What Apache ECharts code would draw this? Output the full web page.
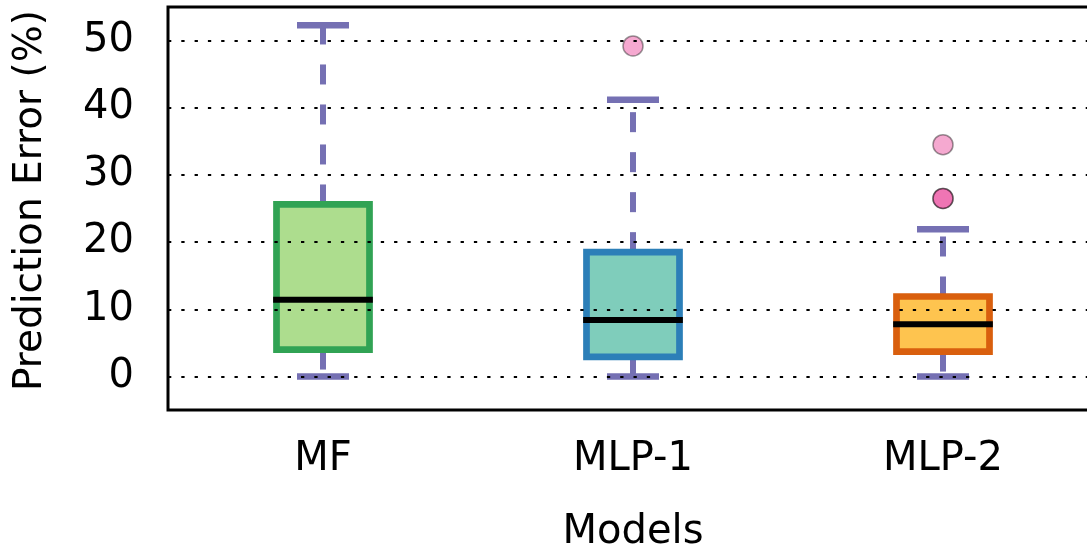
<!DOCTYPE html>
<html><head><meta charset="utf-8">
<script src="https://cdn.jsdelivr.net/npm/echarts@6/dist/echarts.min.js"></script>
<style>html,body{margin:0;padding:0;background:#fff}#c{width:1087px;height:550px}</style>
</head><body><div id="c"></div>
<script>
const categories = ['MF', 'MLP-1', 'MLP-2'];
const whiskerLow = [0, 0, 0];
const q1 = [4.0, 2.9, 3.7];
const medians = [11.4, 8.4, 7.75];
const q3 = [25.6, 18.5, 11.9];
const whiskerHigh = [52.3, 41.2, 21.9];
const outliers = [[1, 49.2], [2, 34.5], [2, 26.5], [2, 26.5]];
const yTicks = [0, 10, 20, 30, 40, 50];
const boxFill = ['#addd8e', '#7fcdbb', '#fec44f'];
const boxEdge = ['#31a354', '#2c7fb8', '#d95f0e'];

const boxData = categories.map((c, i) => [i, whiskerLow[i], q1[i], medians[i], q3[i], whiskerHigh[i]]);
const FONT = 'DejaVu Sans';

function renderItem(params, api) {
  const i = api.value(0);
  const pLow = api.coord([i, api.value(1)]);
  const pQ1 = api.coord([i, api.value(2)]);
  const pMed = api.coord([i, api.value(3)]);
  const pQ3 = api.coord([i, api.value(4)]);
  const pHigh = api.coord([i, api.value(5)]);
  const x = pMed[0];
  const bw = 93, cw = 52, bl = 6.7;
  const wStyle = { stroke: '#7570b3', lineWidth: 6, lineDash: [20, 20], lineCap: 'butt' };
  const cStyle = { stroke: '#7570b3', lineWidth: 6.5, lineCap: 'butt' };
  return {
    type: 'group',
    children: [
      { type: 'line', shape: { x1: x, y1: pQ3[1], x2: x, y2: pHigh[1] }, style: wStyle },
      { type: 'line', shape: { x1: x, y1: pQ1[1], x2: x, y2: pLow[1] }, style: wStyle },
      { type: 'line', shape: { x1: x - cw / 2, y1: pHigh[1], x2: x + cw / 2, y2: pHigh[1] }, style: cStyle },
      { type: 'line', shape: { x1: x - cw / 2, y1: pLow[1], x2: x + cw / 2, y2: pLow[1] }, style: cStyle },
      { type: 'rect', shape: { x: x - bw / 2, y: pQ3[1], width: bw, height: pQ1[1] - pQ3[1] },
        style: { fill: boxFill[i], stroke: boxEdge[i], lineWidth: bl } },
      { type: 'line', shape: { x1: x - bw / 2 - bl / 2, y1: pMed[1], x2: x + bw / 2 + bl / 2, y2: pMed[1] },
        style: { stroke: '#000', lineWidth: 6, lineCap: 'butt' } }
    ]
  };
}

const chart = echarts.init(document.getElementById('c'), null, { renderer: 'canvas' });
chart.setOption({
  animation: false,
  backgroundColor: '#fff',
  grid: { left: 168, top: 7, right: -11, bottom: 140, show: true, borderColor: '#000', borderWidth: 3,
          backgroundColor: 'transparent', outerBoundsMode: 'none', containLabel: false },
  xAxis: {
    type: 'category',
    data: categories,
    boundaryGap: true,
    axisLine: { show: false },
    axisTick: { show: false },
    axisLabel: { color: '#000', fontFamily: FONT, fontSize: 40, margin: 30 },
    name: 'Models',
    nameLocation: 'middle',
    nameGap: 103,
    nameTextStyle: { color: '#000', fontFamily: FONT, fontSize: 40 }
  },
  yAxis: {
    type: 'value',
    min: -5,
    max: 55,
    z: 10,
    axisLine: { show: false },
    axisTick: { show: false },
    axisLabel: {
      color: '#000', fontFamily: FONT, fontSize: 40, margin: 34,
      showMinLabel: false, showMaxLabel: false,
      formatter: v => (yTicks.indexOf(v) >= 0 ? String(v) : '')
    },
    splitLine: {
      show: true, showMinLine: false, showMaxLine: false,
      lineStyle: { color: '#000', width: 2, type: [3.3, 10] }
    },
    name: 'Prediction Error (%)',
    nameLocation: 'middle',
    nameGap: 118,
    nameTextStyle: { color: '#000', fontFamily: FONT, fontSize: 39, padding: [0, 0, 0, 16] }
  },
  series: [
    {
      type: 'custom',
      renderItem: renderItem,
      data: boxData,
      encode: { x: 0, y: [1, 2, 3, 4, 5] },
      z: 2
    },
    {
      type: 'scatter',
      data: outliers,
      symbol: 'circle',
      symbolSize: 20,
      itemStyle: { color: 'rgba(231,41,138,0.5)', borderColor: 'rgba(0,0,0,0.5)', borderWidth: 1.5 },
      z: 3
    }
  ]
});
</script>
</body></html>
